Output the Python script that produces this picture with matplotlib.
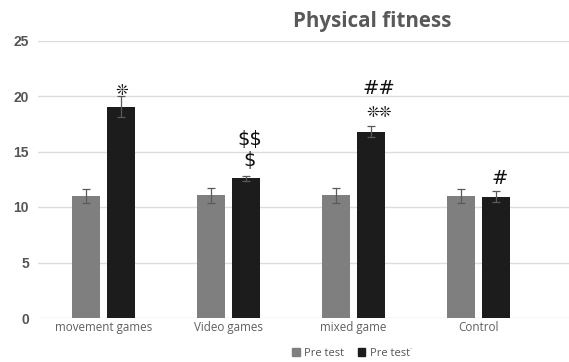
import matplotlib
matplotlib.use("Agg")
import matplotlib.pyplot as plt
import numpy as np
from matplotlib.patches import Patch

# Data
categories = ["movement games", "Video games", "mixed game", "Control"]
pre_values = [11.0, 11.05, 11.05, 10.97]
pre_errors = [0.65, 0.68, 0.65, 0.65]
post_values = [19.05, 12.57, 16.78, 10.93]
post_errors = [0.95, 0.2, 0.5, 0.5]
legend_labels = ["Pre test", "Pre test\u02d9"]
y_ticks = [0, 5, 10, 15, 20, 25]

# Significance marks: (category index, label, height, x shift)
marks = [
    (0, "\u274a", 20.5, 0.0),
    (1, "$$", 16.1, 0.03),
    (1, "$", 14.2, 0.03),
    (2, "##", 20.7, 0.06),
    (2, "\u274a\u274a", 18.55, 0.06),
    (3, "#", 12.6, 0.03),
]

W, H = 569, 362
fig = plt.figure(figsize=(W / 100, H / 100), dpi=100)
left, right, top, bottom = 38, 569, 40.5, 318
ax = fig.add_axes([left / W, 1 - bottom / H, (right - left) / W, (bottom - top) / H])

x = np.arange(len(categories))
bw = 0.224
off = 0.142
gray = "#7f7f7f"
dark = "#1c1c1c"
errc = "#5a5a5a"

ax.bar(x - off, pre_values, bw, color=gray, zorder=3)
ax.bar(x + off, post_values, bw, color=dark, zorder=3)
ax.errorbar(x - off, pre_values, yerr=pre_errors, fmt="none", ecolor=errc,
            elinewidth=0.9, capsize=3, capthick=0.9, zorder=4)
ax.errorbar(x + off, post_values, yerr=post_errors, fmt="none", ecolor=errc,
            elinewidth=0.9, capsize=3, capthick=0.9, zorder=4)

for idx, label, yv, dx in marks:
    if "\u274a" in label:
        ax.text(x[idx] + off + dx, yv, label, ha="center", va="center",
                fontsize=11, fontweight="bold", color="#111111",
                family="DejaVu Sans", zorder=5, parse_math=False)
    else:
        ax.text(x[idx] + off + dx, yv, label, ha="center", va="center",
                fontsize=14, color="#111111", family="DejaVu Sans", zorder=5,
                parse_math=False)

ax.set_xlim((left - 103.5) / 125, (right - 103.5) / 125)
ax.set_ylim(0, 25)
ax.set_yticks(y_ticks)
ax.set_yticklabels([str(v) for v in y_ticks], fontsize=10, fontweight="bold",
                   color="#555555", family="Liberation Sans")
ax.set_xticks(x)
ax.set_xticklabels(categories, fontsize=8.4, color="#606060", family="Open Sans")
ax.tick_params(axis="both", length=0)
ax.tick_params(axis="y", pad=6.5)
ax.tick_params(axis="x", pad=2)
ax.yaxis.grid(True, color="#dcdcdc", linewidth=1, zorder=0)
ax.set_axisbelow(True)
for s in ax.spines.values():
    s.set_visible(False)

fig.text(372 / W, 1 - 21.7 / H, "Physical fitness", ha="center", va="center",
         fontsize=14.8, fontweight="bold", color="#595959", family="Open Sans")

handles = [Patch(color=gray), Patch(color=dark)]
fig.legend(handles, legend_labels, loc="center", bbox_to_anchor=(352 / W, 1 - 353 / H),
           ncol=2, frameon=False, handlelength=0.7, handleheight=0.7,
           handletextpad=0.4, columnspacing=1.2, labelcolor="#555555",
           prop={"family": "Open Sans", "size": 8})

fig.savefig("out.png", dpi=100, facecolor="white")
